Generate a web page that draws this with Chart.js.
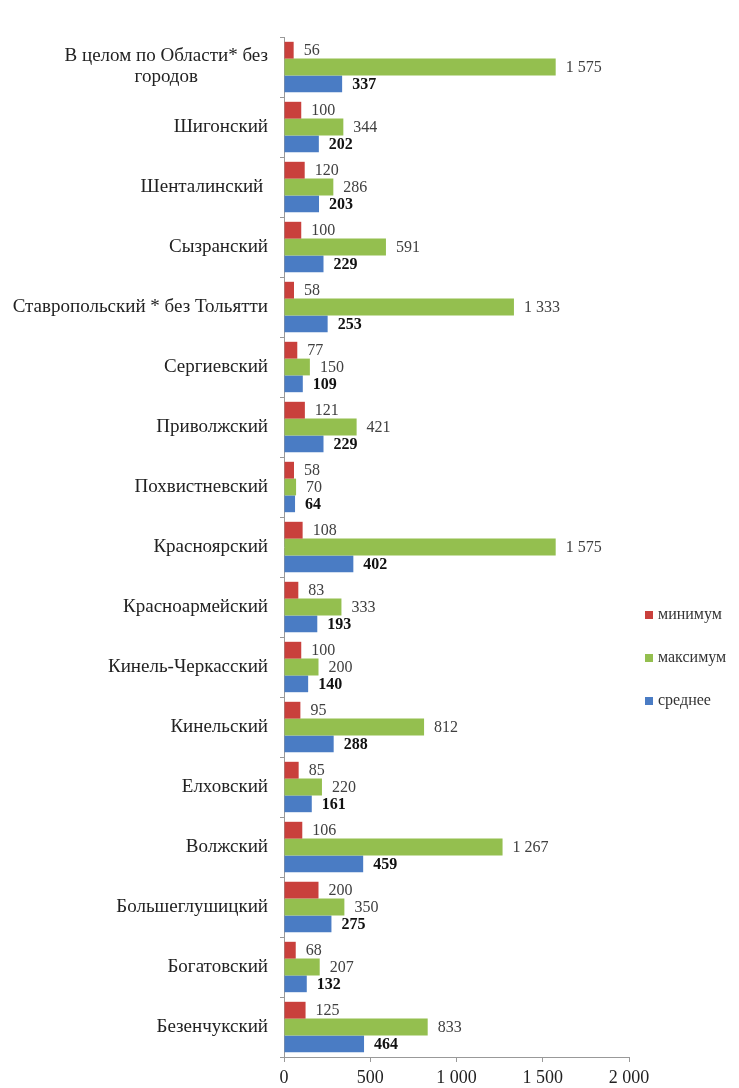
<!DOCTYPE html>
<html><head><meta charset="utf-8">
<script src="https://cdn.jsdelivr.net/npm/chart.js@4/dist/chart.umd.min.js"></script>
<style>html,body{margin:0;padding:0;background:#fff}#wrap{width:739px;height:1088px}</style>
</head><body><div id="wrap"><canvas id="c" width="739" height="1088"></canvas></div>
<script>
const categories = [
  ['В целом по Области* без','городов'],
  'Шигонский','Шенталинский ','Сызранский','Ставропольский * без Тольятти',
  'Сергиевский','Приволжский','Похвистневский','Красноярский','Красноармейский',
  'Кинель-Черкасский','Кинельский','Елховский','Волжский','Большеглушицкий',
  'Богатовский','Безенчукский'
];
const seriesNames = ['минимум','максимум','среднее'];
const minimum = [56,100,120,100,58,77,121,58,108,83,100,95,85,106,200,68,125];
const maximum = [1575,344,286,591,1333,150,421,70,1575,333,200,812,220,1267,350,207,833];
const average = [337,202,203,229,253,109,229,64,402,193,140,288,161,459,275,132,464];
const xTicks = [0,500,1000,1500,2000];
const colors = ['#C9403C','#94BF4F','#4A7CC4'];

const fmt = v => String(v).replace(/\B(?=(\d{3})+(?!\d))/g,' ');
const SERIF = '"Liberation Serif","Times New Roman",serif';

const drawPlugin = {
  id:'drawPlugin',
  afterDatasetsDraw(chart){
    const ctx = chart.ctx;
    chart.data.datasets.forEach((ds,di)=>{
      const meta = chart.getDatasetMeta(di);
      meta.data.forEach((bar,i)=>{
        ctx.save();
        ctx.font = (di===2?'bold ':'') + '16px ' + SERIF;
        ctx.fillStyle = di===2 ? '#111' : '#404040';
        ctx.textAlign = 'left';
        ctx.textBaseline = 'middle';
        ctx.fillText(fmt(ds.data[i]), bar.x + 10, bar.y + 1);
        ctx.restore();
      });
    });
  },
  afterDraw(chart){
    const ctx = chart.ctx;
    const ys = chart.scales.y;
    ctx.save();
    ctx.font = '19px ' + SERIF;
    ctx.fillStyle = '#222';
    ctx.textBaseline = 'middle';
    const right = ys.right - 16;
    chart.data.labels.forEach((lab,i)=>{
      const y = ys.getPixelForValue(i);
      if (Array.isArray(lab)) {
        const w = Math.max(...lab.map(t=>ctx.measureText(t).width));
        const cx = right - w/2;
        const lh = 21;
        ctx.textAlign = 'center';
        lab.forEach((t,k)=>ctx.fillText(t, cx, y - (lab.length-1)*lh/2 + k*lh));
      } else {
        ctx.textAlign = 'right';
        ctx.fillText(lab, right, y);
      }
    });
    // legend
    const ly = [615,658,701];
    ctx.font = '16px ' + SERIF;
    ctx.textAlign = 'left';
    chart.data.datasets.forEach((ds,di)=>{
      ctx.fillStyle = ds.backgroundColor;
      ctx.fillRect(645, ly[di]-4, 8, 8);
      ctx.fillStyle = '#333';
      ctx.fillText(ds.label, 658, ly[di]);
    });
    ctx.restore();
  }
};

new Chart(document.getElementById('c'), {
  type:'bar',
  data:{
    labels: categories,
    datasets:[
      {label:seriesNames[0], data:minimum, backgroundColor:colors[0]},
      {label:seriesNames[1], data:maximum, backgroundColor:colors[1]},
      {label:seriesNames[2], data:average, backgroundColor:colors[2]}
    ]
  },
  options:{
    indexAxis:'y',
    responsive:false,
    animation:false,
    devicePixelRatio:1,
    layout:{padding:{top:37,right:110,bottom:0,left:0}},
    datasets:{bar:{categoryPercentage:0.84, barPercentage:1, borderWidth:0}},
    plugins:{legend:{display:false}, tooltip:{enabled:false}},
    scales:{
      x:{
        min:0,max:2000,
        afterBuildTicks(s){ s.ticks = xTicks.map(v=>({value:v})); },
        ticks:{font:{family:SERIF,size:18,lineHeight:1}, color:'#222', padding:7, callback:v=>fmt(v), maxRotation:0},
        grid:{drawOnChartArea:false, tickLength:5, color:'#999'},
        border:{color:'#999'},
        afterFit(s){ s.height = 31; }
      },
      y:{
        ticks:{display:false},
        grid:{drawOnChartArea:false, tickLength:4, offset:true, color:'#999'},
        border:{color:'#999'},
        afterFit(s){ s.width = 284; }
      }
    }
  },
  plugins:[drawPlugin]
});
</script></body></html>
